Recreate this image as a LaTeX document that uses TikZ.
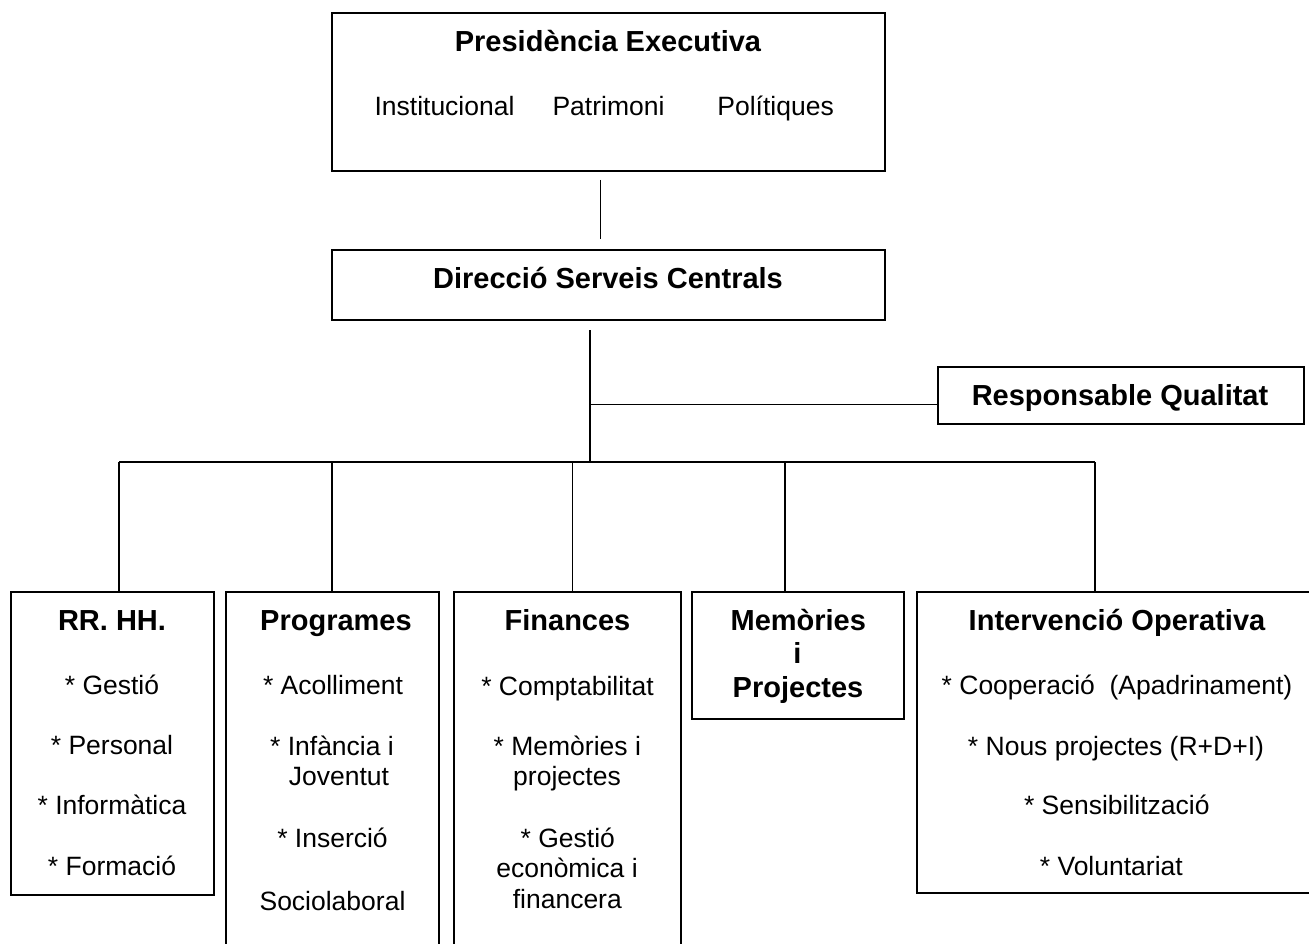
\documentclass[tikz,border=0pt]{standalone}
\usepackage{fontspec}
\setmainfont{Liberation Sans}
\usetikzlibrary{calc}
\newcommand\orgtitle{\fontsize{29}{33}\selectfont\bfseries}
\newcommand\orgitem{\fontsize{26.5}{30}\selectfont}
\begin{document}
\begin{tikzpicture}[x=1pt,y=-1pt,
  box/.style={draw, line width=2pt, anchor=north west, inner sep=0pt, outer sep=0pt},
  conn/.style={line width=1.4pt},
  ttl/.style={anchor=base, inner sep=0pt, font=\orgtitle},
  itm/.style={anchor=base, inner sep=0pt, font=\orgitem}]
\useasboundingbox (0,0) rectangle (1309,944);
\clip (0,0) rectangle (1309,944);
% boxes
\node[box, minimum width=553.5pt, minimum height=158pt] (pres) at (331.5,13) {};
\node[box, minimum width=553.5pt, minimum height=70pt] (dir) at (331.5,250) {};
\node[box, minimum width=365.5pt, minimum height=57pt] (rq) at (938,367) {};
\node[box, minimum width=203pt, minimum height=303pt] (rrhh) at (10.7,592) {};
\node[box, minimum width=212.7pt, minimum height=380pt] (prog) at (226,592) {};
\node[box, minimum width=226.7pt, minimum height=380pt] (fin) at (454,592) {};
\node[box, minimum width=211.7pt, minimum height=127.3pt] (mem) at (692.3,592) {};
\node[box, minimum width=400pt, minimum height=301pt] (int) at (917.3,592) {};
% texts
\node[ttl] (presT) at (608,51.5) {Presidència Executiva};
\node[itm] (presA) at (444.5,115.5) {Institucional};
\node[itm] (presB) at (608.5,115.5) {Patrimoni};
\node[itm] (presC) at (775.6,115.5) {Polítiques};
\node[ttl] (dirT) at (608,288) {Direcció Serveis Centrals};
\node[ttl] (rqT) at (1120,405) {Responsable Qualitat};
\node[ttl] (rrhhT) at (112,630) {RR. HH.};
\node[itm] (rrhh1) at (112,694) {* Gestió};
\node[itm] (rrhh2) at (112,754.3) {* Personal};
\node[itm] (rrhh3) at (112,814.6) {* Informàtica};
\node[itm] (rrhh4) at (112,875) {* Formació};
\node[ttl] (progT) at (336,630) {Programes};
\node[itm] (prog1) at (333,694) {* Acolliment};
\node[itm] (prog2) at (332,755) {* Infància i};
\node[itm] (prog3) at (339,785.7) {Joventut};
\node[itm] (prog4) at (332.5,847.7) {* Inserció};
\node[itm] (prog5) at (332.5,910) {Sociolaboral};
\node[ttl] (finT) at (567.5,630) {Finances};
\node[itm] (fin1) at (567.5,695) {* Comptabilitat};
\node[itm] (fin2) at (567.3,755) {* Memòries i};
\node[itm] (fin3) at (567,785) {projectes};
\node[itm] (fin4) at (567.8,847.7) {* Gestió};
\node[itm] (fin5) at (567,877.7) {econòmica i};
\node[itm] (fin6) at (567.3,908.3) {financera};
\node[ttl] (memT1) at (798.3,630) {Memòries};
\node[ttl] (memT2) at (797.5,663.3) {i};
\node[ttl] (memT3) at (798,697.3) {Projectes};
\node[ttl] (intT) at (1117,630) {Intervenció Operativa};
\node[itm] (int1) at (1117,694.3) {* Cooperació\ \ (Apadrinament)};
\node[itm] (int2) at (1116,755) {* Nous projectes (R+D+I)};
\node[itm] (int3) at (1116.8,814.3) {* Sensibilització};
\node[itm] (int4) at (1111.3,875) {* Voluntariat};
% connectors
\draw[conn] ($(pres.south)+(-7.5,9)$) -- ($(dir.north)+(-7.5,-11)$);
\coordinate (bus0) at (590,462);
\coordinate (jq) at (590,404.5);
\draw[conn] ($(dir.south)+(-18.25,10)$) -- (bus0);
\draw[conn] (jq) -- (jq -| rq.west);
\coordinate (busL) at (119,462);
\coordinate (busR) at (1095,462);
\coordinate (b2) at (332,462);
\coordinate (b3) at (572.6,462);
\coordinate (b4) at (785,462);
\draw[conn] (busL) -- (busR);
\draw[conn] (busL) -- (busL |- rrhh.north);
\draw[conn] (b2) -- (b2 |- prog.north);
\draw[conn] (b3) -- (b3 |- fin.north);
\draw[conn] (b4) -- (b4 |- mem.north);
\draw[conn] (busR) -- (busR |- int.north);
\end{tikzpicture}
\end{document}
